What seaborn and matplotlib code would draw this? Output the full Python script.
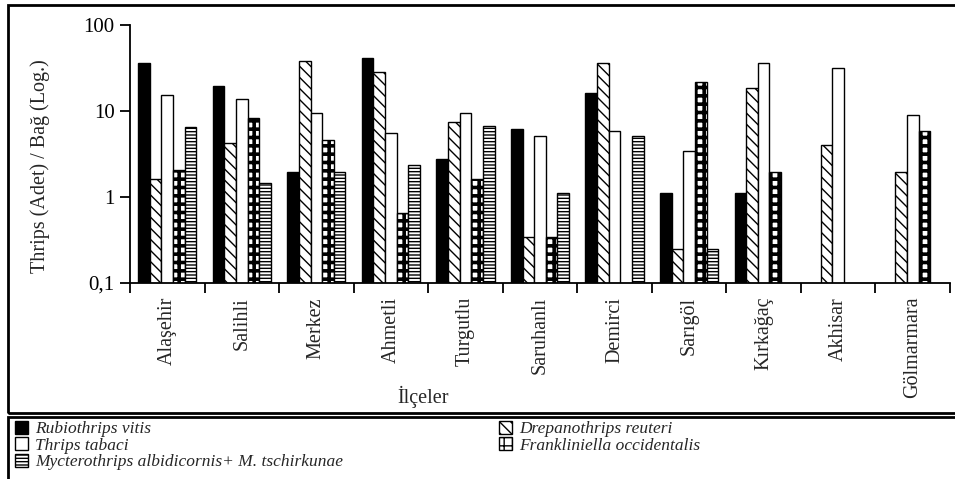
import numpy as np
import pandas as pd
import matplotlib
matplotlib.use("Agg")
import matplotlib.pyplot as plt
import seaborn as sns
from matplotlib.patches import Rectangle
from matplotlib.ticker import FixedLocator, NullLocator

nan = np.nan
districts = ["Alaşehir", "Salihli", "Merkez", "Ahmetli", "Turgutlu", "Saruhanlı",
             "Demirci", "Sarıgöl", "Kırkağaç", "Akhisar", "Gölmarmara"]
species = ["Rubiothrips vitis", "Drepanothrips reuteri", "Thrips tabaci",
           "Frankliniella occidentalis", "Mycterothrips albidicornis+ M. tschirkunae"]

rubiothrips = [36.0, 19.6, 1.97, 41.7, 2.74, 6.2, 16.1, 1.11, 1.11, nan, nan]
drepanothrips = [1.62, 4.2, 38.0, 28.6, 7.5, 0.34, 36.5, 0.25, 18.7, 4.06, 1.97]
tabaci = [15.2, 13.9, 9.4, 5.6, 9.4, 5.1, 5.85, 3.45, 36.5, 31.3, 9.0]
frankliniella = [2.06, 8.4, 4.6, 0.66, 1.62, 0.34, nan, 21.5, 1.97, nan, 5.9]
mycterothrips = [6.5, 1.47, 1.95, 2.38, 6.75, 1.11, 5.1, 0.25, nan, nan, nan]

yticks = [0.1, 1, 10, 100]
ytick_labels = ["0,1", "1", "10", "100"]

series = [rubiothrips, drepanothrips, tabaci, frankliniella, mycterothrips]
rows = []
for sp, vals in zip(species, series):
    for d, v in zip(districts, vals):
        rows.append({"district": d, "species": sp, "value": v})
df = pd.DataFrame(rows).dropna()

sns.set_style("white")
plt.rcParams["font.family"] = ["Liberation Serif", "DejaVu Serif"]
plt.rcParams["hatch.linewidth"] = 1.0

fig = plt.figure(figsize=(9.55, 4.79), dpi=100)
ax = fig.add_axes([130 / 955, 1 - 283 / 479, 820 / 955, 258 / 479])
ax.set_yscale("log")

faces = ["black", "white", "white", "white", "white"]
hatches = [None, "\\\\\\", None, "++", "-----"]
hatch_lw = [1.0, 1.0, 1.0, 2.6, 1.0]

sns.barplot(data=df, x="district", y="value", hue="species", order=districts,
            hue_order=species, palette=faces, width=0.78, edgecolor="black",
            linewidth=1.0, errorbar=None, legend=False, ax=ax, saturation=1)

for cont, h, hl in zip(ax.containers, hatches, hatch_lw):
    for bar in cont:
        bar.set_hatch(h)
        bar.set_edgecolor("black")
        try:
            bar.set_hatch_linewidth(hl)
        except AttributeError:
            pass

ax.set_ylim(0.1, 100)
ax.set_xlim(-0.5, len(districts) - 0.5)
ax.yaxis.set_major_locator(FixedLocator(yticks))
ax.set_yticklabels(ytick_labels, fontsize=15)
ax.yaxis.set_minor_locator(NullLocator())
ax.tick_params(axis="y", which="major", direction="out", length=7, width=1.3,
               left=True, pad=4, colors="black")
ax.set_xticks(range(len(districts)))
ax.set_xticklabels(districts, rotation=90, fontsize=14.5)
ax.tick_params(axis="x", which="major", length=0, pad=10)
ax.set_xticks(np.arange(-0.5, len(districts), 1.0), minor=True)
ax.tick_params(axis="x", which="minor", direction="out", length=7, width=1.3,
               bottom=True, colors="black")

for s in ["top", "right"]:
    ax.spines[s].set_visible(False)
for s in ["left", "bottom"]:
    ax.spines[s].set_color("black")
    ax.spines[s].set_linewidth(1.3)

ax.set_ylabel("Thrips (Adet) / Bağ (Log.)", fontsize=14.5)
ax.yaxis.set_label_coords(-0.098, 0.453)
ax.set_xlabel("İlçeler", fontsize=14.5)
ax.xaxis.set_label_coords((423 - 130) / 820, -0.40)

# frames: chart box and legend box
fig.patches.append(Rectangle((8 / 955, 1 - 413 / 479), 960 / 955, 408 / 479,
                             transform=fig.transFigure, fill=False,
                             edgecolor="black", linewidth=2, clip_on=False))
fig.patches.append(Rectangle((8 / 955, -6 / 479), 960 / 955, 68 / 479,
                             transform=fig.transFigure, fill=False,
                             edgecolor="black", linewidth=2, clip_on=False))

order = [0, 2, 4, 1, 3]
handles = [ax.containers[i] for i in order]
labels = [species[i] for i in order]
leg = fig.legend(handles, labels, loc="upper left",
                 bbox_to_anchor=(15 / 955, 1 - 421 / 479), ncol=2,
                 frameon=False, borderpad=0, borderaxespad=0,
                 handlelength=0.75, handleheight=0.75, handletextpad=0.4,
                 labelspacing=0.0, columnspacing=9.0,
                 prop={"family": "Liberation Serif", "style": "italic", "size": 12.5})

fig.savefig("out.png", dpi=100)
